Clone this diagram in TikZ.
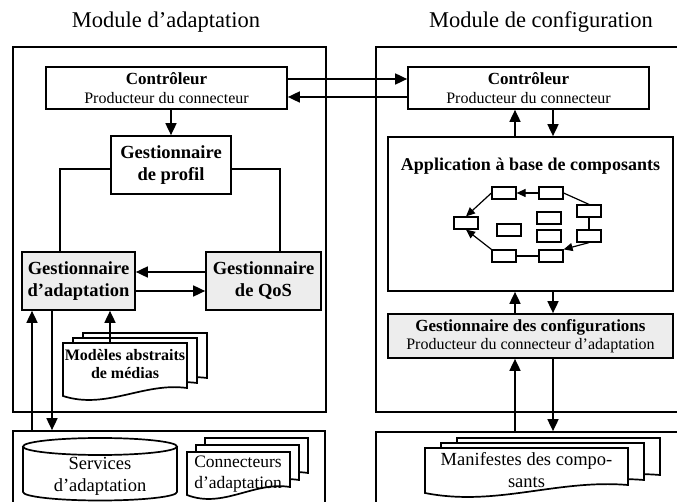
\documentclass[tikz,border=0pt]{standalone}
\usepackage{fontspec}
\setmainfont{Liberation Serif}
\usetikzlibrary{arrows.meta}
\tikzset{
  ln/.style={line width=1.7pt},
  arr/.style={ln,-{Triangle[length=12pt,width=11pt]}},
  box/.style={draw,ln,fill=white,inner sep=0pt,align=center},
  gbox/.style={box,fill=black!7},
  comp/.style={draw,line width=1.2pt,fill=white,minimum width=24pt,minimum height=12pt,inner sep=0pt},
  sarr/.style={line width=1.2pt,-{Triangle[length=9pt,width=8pt]}},
  sln/.style={line width=1.2pt},
  docst/.style={ln,fill=white,line join=miter},
  ttl/.style={font=\fontsize{22.5}{26}\selectfont},
  gfont/.style={font=\fontsize{18.5}{22}\selectfont\bfseries},
  tfont/.style={font=\fontsize{18.5}{22}\selectfont},
  cfont/.style={font=\fontsize{16}{18.5}\selectfont},
}
\newcommand\docshape[4]{%
  \filldraw[docst] (#1,#2) -- ({#1+#3},#2) -- ({#1+#3},{#2+#4-8})
    .. controls ({#1+0.65*#3},{#2+#4-14}) and ({#1+0.35*#3},{#2+#4+14}) .. (#1,{#2+#4}) -- cycle;}
\begin{document}
\begin{tikzpicture}[x=1pt,y=-1pt]
\useasboundingbox (0,0) rectangle (677,502);
\clip (0,0) rectangle (677,502);

% titles
\node[ttl] (tL) at (166,22) {Module d’adaptation};
\node[ttl] (tR) at (541,22) {Module de configuration};

% outer boxes
\node[box,minimum width=313pt,minimum height=365pt] (outL) at (169.5,229.5) {};
\node[box,minimum width=324pt,minimum height=365pt] (outR) at (538,229.5) {};
\node[box,minimum width=312pt,minimum height=90pt] (lowL) at (169,476) {};
\node[box,minimum width=324pt,minimum height=90pt] (lowR) at (538,477) {};

% controllers
\node[box,cfont,minimum width=241pt,minimum height=42pt] (lc) at (166.5,88)
  {{\fontsize{17}{18.5}\selectfont\bfseries Contrôleur}\\Producteur du connecteur};
\node[box,cfont,minimum width=241pt,minimum height=42pt] (rc) at (528.5,88)
  {{\fontsize{17}{18.5}\selectfont\bfseries Contrôleur}\\Producteur du connecteur};

% left module
\node[box,gfont,minimum width=120pt,minimum height=58pt] (gp) at (171,165) {Gestionnaire\\de profil};
\node[gbox,gfont,minimum width=113pt,minimum height=58pt] (ga) at (78.5,281) {Gestionnaire\\d’adaptation};
\node[gbox,gfont,minimum width=115pt,minimum height=58pt] (gq) at (263.5,281) {Gestionnaire\\de QoS};

% documents: modeles
\docshape{83}{333}{124}{53}
\docshape{73}{338}{124}{53}
\docshape{63}{343}{124}{53}
\node[font=\fontsize{16}{18.5}\selectfont\bfseries,align=center,inner sep=0pt] (models) at (125,364) {Modèles abstraits\\de médias};
\coordinate (mtop) at (110,343);

% lower left
\filldraw[ln,fill=white] (23,446.5) -- (23,492) arc[start angle=180,end angle=360,x radius=77pt,y radius=8.5pt] -- (177,446.5);
\draw[ln,fill=white] (100,446.5) ellipse [x radius=77pt,y radius=8.5pt];
\node[tfont,align=center,inner sep=0pt] (serv) at (100,476) {Services\\d’adaptation};
\docshape{205}{438}{103}{43}
\docshape{196}{445}{103}{43}
\docshape{187}{452}{103}{43}
\node[font=\fontsize{17.5}{21}\selectfont,align=center,inner sep=0pt] (conn) at (238,474) {Connecteurs\\d’adaptation};

% right module
\node[box,minimum width=285pt,minimum height=154pt] (app) at (530.5,214) {};
\node[font=\fontsize{18}{20}\selectfont\bfseries,inner sep=0pt] (apptitle) at (530.5,166) {Application à base de composants};
\node[gbox,cfont,minimum width=285pt,minimum height=44pt] (gc) at (530.5,336)
  {{\fontsize{17}{19}\selectfont\bfseries Gestionnaire des configurations}\\Producteur du connecteur d’adaptation};

% components
\node[comp] (A) at (504,193) {};
\node[comp] (B) at (551,193) {};
\node[comp] (C) at (589,211) {};
\node[comp] (D) at (589,236) {};
\node[comp] (E) at (551,256) {};
\node[comp] (F) at (504,256) {};
\node[comp] (G) at (466,223) {};
\node[comp] (H) at (509,230) {};
\node[comp] (I) at (549,218) {};
\node[comp] (J) at (549,236) {};
\draw[sarr] (B.west) -- (A.east);
\draw[sln] (B.east) -- (C.north);
\draw[sln] (C.south) -- (D.north);
\draw[sarr] (D.south) -- (E.north east);
\draw[sln] (E.west) -- (F.east);
\draw[sarr] (F.north west) -- (G.south);
\draw[sarr] (A.west) -- (G.north);

% manifestes
\docshape{457}{438}{203}{45}
\docshape{441}{443}{203}{45}
\docshape{425}{448}{203}{45}
\node[tfont,align=center,inner sep=0pt] (manif) at (526.5,470) {Manifestes des compo-\\sants};

% connectors
\draw[arr] ([yshift=9pt]lc.east) -- ([yshift=9pt]rc.west);
\draw[arr] ([yshift=-9pt]rc.west) -- ([yshift=-9pt]lc.east);
\draw[arr] (gp.north |- lc.south) -- (gp.north);
\draw[ln] ([yshift=-4pt]gp.west) -| ([xshift=-18.5pt]ga.north);
\draw[ln] ([yshift=-4pt]gp.east) -| ([xshift=16.5pt]gq.north);
\draw[arr] ([yshift=9pt]gq.west) -- ([yshift=9pt]ga.east);
\draw[arr] ([yshift=-10pt]ga.east) -- ([yshift=-10pt]gq.west);
\draw[arr] (mtop) -- (mtop |- ga.south);
\draw[arr] ([xshift=-46.5pt]ga.south |- lowL.north) -- ([xshift=-46.5pt]ga.south);
\draw[arr] ([xshift=-26.5pt]ga.south) -- ([xshift=-26.5pt]ga.south |- lowL.north);

\draw[arr] ([xshift=-15.5pt]app.north) -- ([xshift=-15.5pt]app.north |- rc.south);
\draw[arr] ([xshift=22.5pt]app.north |- rc.south) -- ([xshift=22.5pt]app.north);
\draw[arr] ([xshift=-15.5pt]gc.north) -- ([xshift=-15.5pt]app.south);
\draw[arr] ([xshift=22.5pt]app.south) -- ([xshift=22.5pt]gc.north);
\draw[arr] ([xshift=-15.5pt]gc.south |- lowR.north) -- ([xshift=-15.5pt]gc.south);
\draw[arr] ([xshift=22.5pt]gc.south) -- ([xshift=22.5pt]gc.south |- lowR.north);
\end{tikzpicture}
\end{document}
